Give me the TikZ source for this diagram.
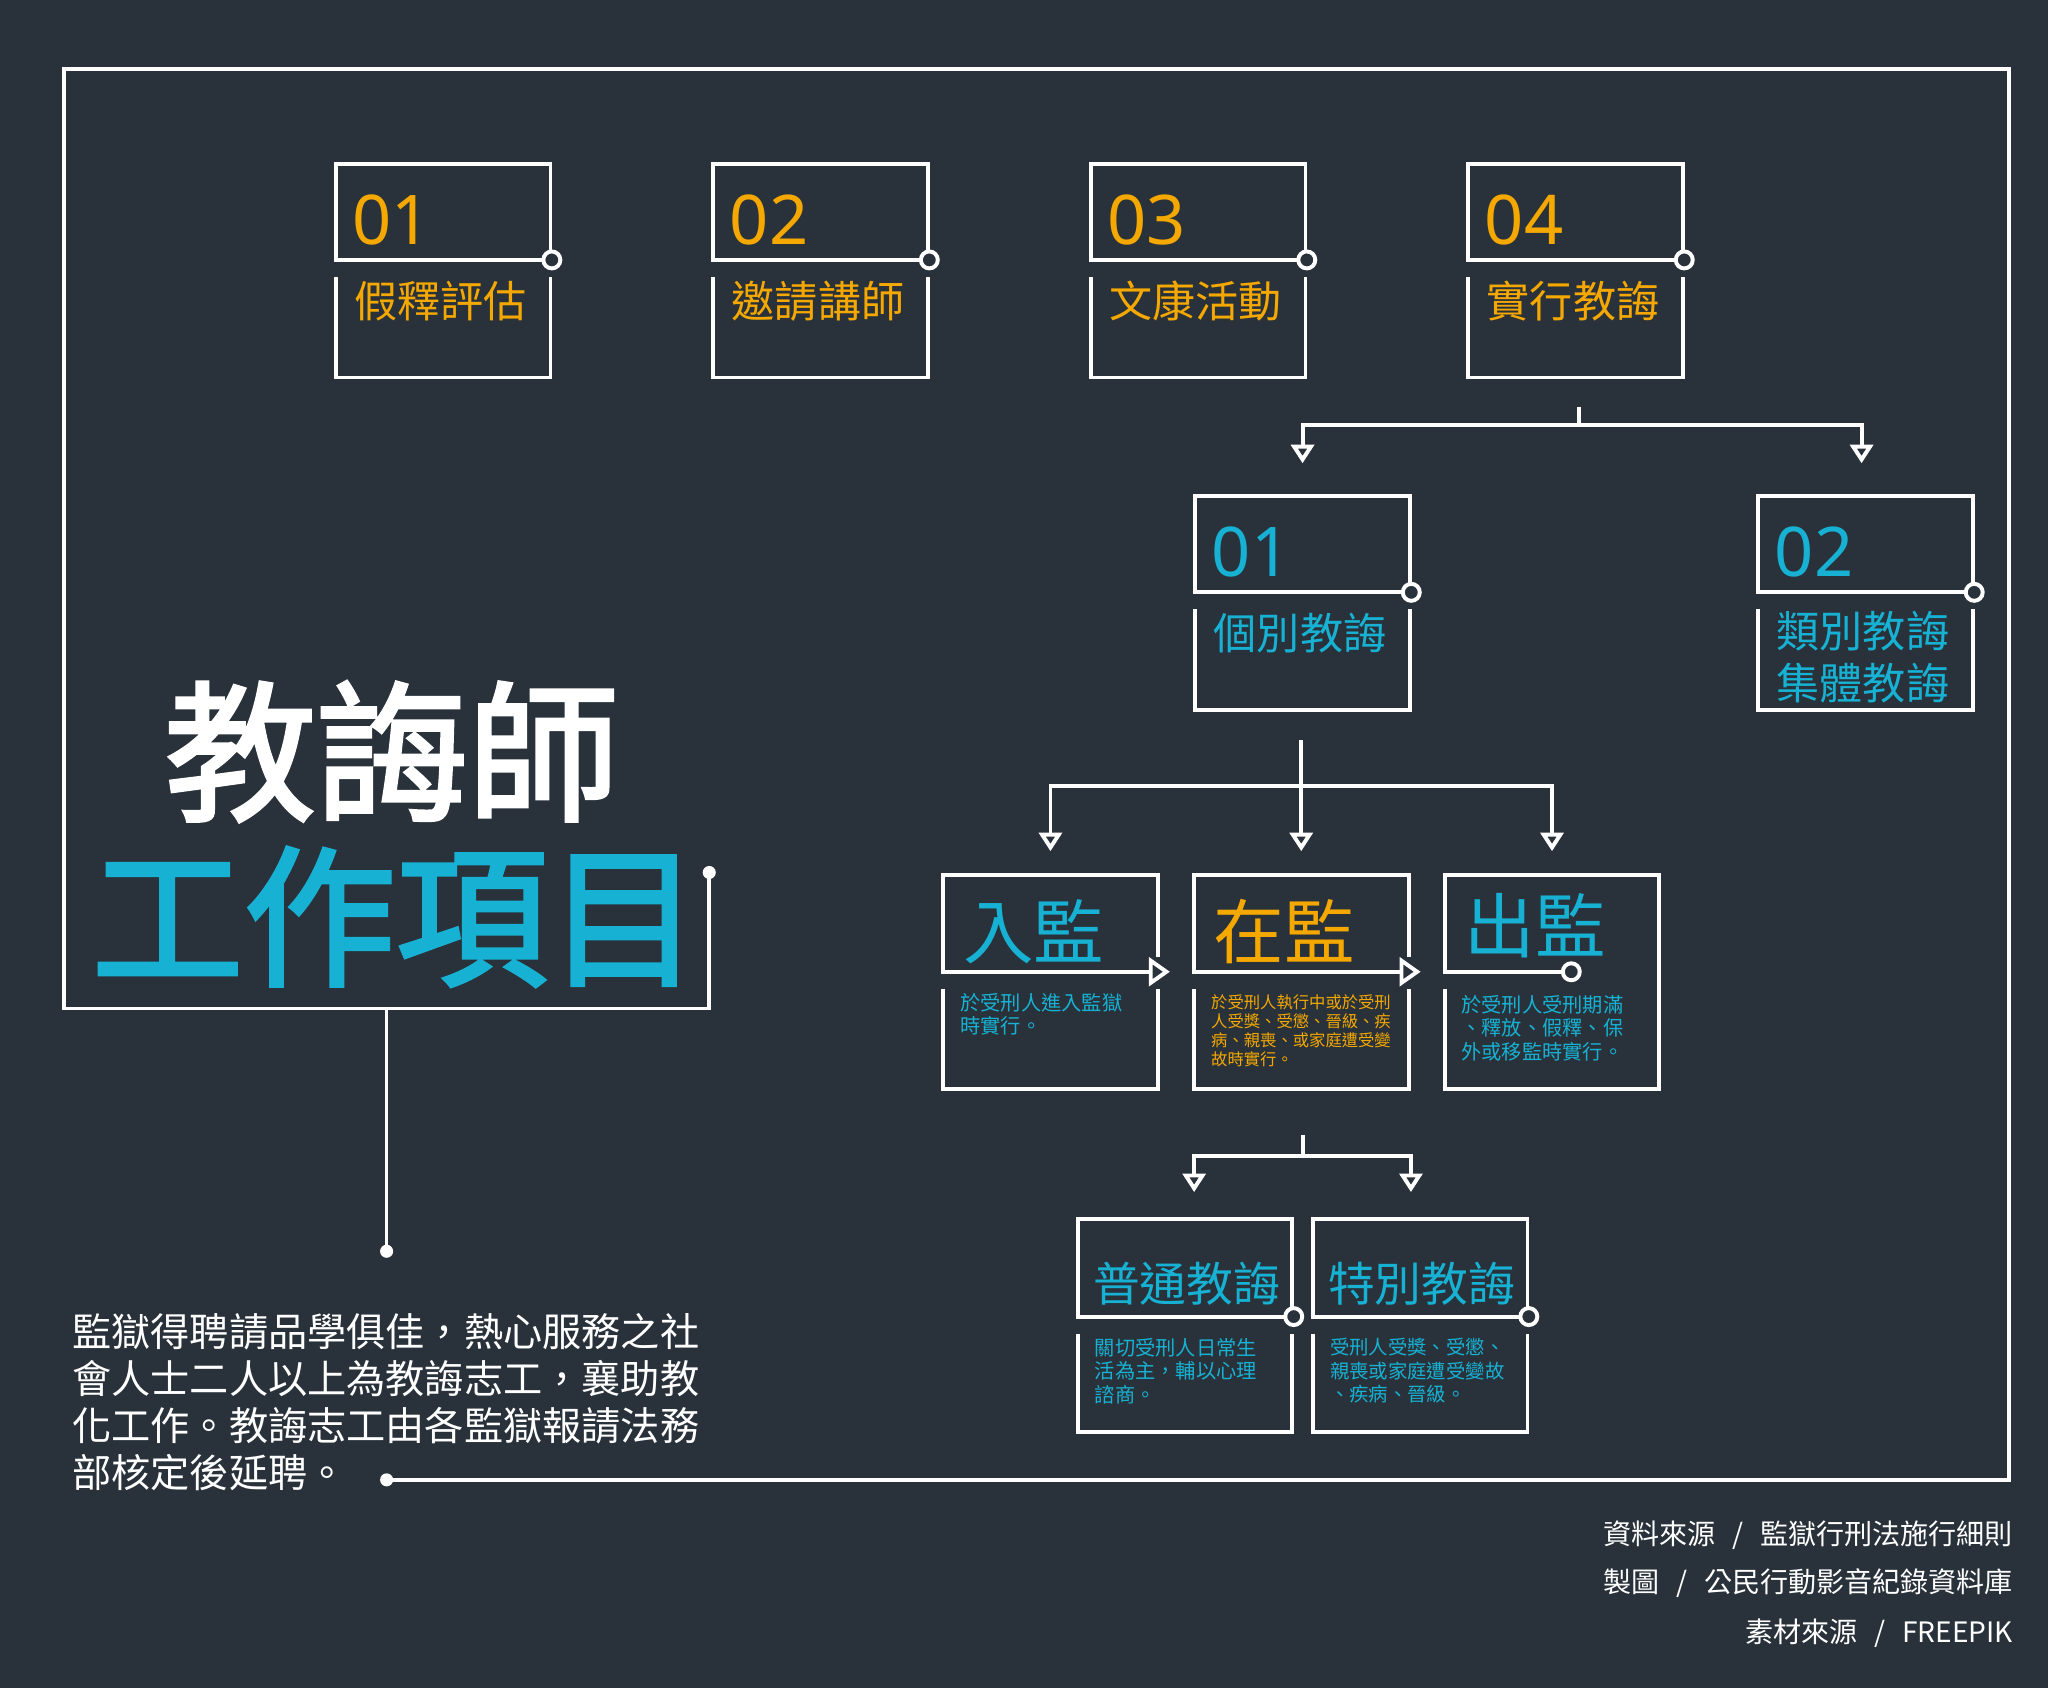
\documentclass[tikz,border=0pt]{standalone}
\usepackage{fontspec}
\setmainfont{Noto Sans CJK TC}
\newfontfamily\numfont{Noto Sans}
\newfontfamily\headfont{Noto Sans CJK TC}[FakeBold=2.2]
\usetikzlibrary{arrows.meta,calc}
\definecolor{bg}{HTML}{29323A}
\definecolor{org}{HTML}{F5A800}
\definecolor{cyn}{HTML}{17B2D3}
\newcommand{\fs}[2]{\fontsize{#1pt}{#2pt}\selectfont}
\tikzset{
  boxline/.style={draw=white, line width=1.8pt, line join=miter},
  frameline/.style={draw=white, line width=1.6pt, line join=miter},
  conn/.style={draw=white, line width=1.8pt, -{Triangle[open, length=8.5pt, width=10.5pt]}},
  plainconn/.style={draw=white, line width=1.8pt},
  area/.style={inner sep=0pt, minimum width=98.7pt, minimum height=98.1pt, draw=none},
  ring/.style={draw=white, line width=1.8pt, fill=bg},
  dotend/.style={circle, fill=white, inner sep=0pt, minimum size=6pt},
  lab/.style={anchor=west, inner sep=0pt},
  num/.style={anchor=base west, inner sep=0pt, font=\numfont\fs{31.5}{32}},
  desc/.style={anchor=north west, inner sep=0pt, align=left},
}
% card with ring at right end of middle line
\newcommand{\cardC}[4]{%
  \node[area] (#1) at (#2+82.25,#3+81.75) {};
  \draw[boxline] (#2+164.5,#4-7.5) -- (#2+164.5,#3) -- (#2,#3) -- (#2,#4) -- (#2+158,#4);
  \draw[boxline] (#2,#4+13) -- (#2,#3+163.5) -- (#2+164.5,#3+163.5) -- (#2+164.5,#4+13);
  \draw[ring] (#2+165.5,#4) circle[radius=6.5];
}
% card with open triangle at right end of middle line
\newcommand{\cardA}[4]{%
  \node[area] (#1) at (#2+82.25,#3+81.75) {};
  \draw[boxline] (#2+164.5,#4-11) -- (#2+164.5,#3) -- (#2,#3) -- (#2,#4) -- (#2+159,#4);
  \draw[boxline] (#2,#4+13) -- (#2,#3+163.5) -- (#2+164.5,#3+163.5) -- (#2+164.5,#4+13);
  \draw[boxline, fill=bg] (#2+159,#4-8.5) -- (#2+171,#4) -- (#2+159,#4+8.5) -- cycle;
}
% card with ring inside the middle line, right edge continuous
\newcommand{\cardO}[4]{%
  \node[area] (#1) at (#2+82.25,#3+81.75) {};
  \draw[boxline] (#2,#4+13) -- (#2,#3+163.5) -- (#2+164.5,#3+163.5) -- (#2+164.5,#3) -- (#2,#3) -- (#2,#4) -- (#2+91,#4);
  \draw[ring] (#2+97,#4) circle[radius=6.5];
}
\begin{document}
\begin{tikzpicture}[x=0.6pt, y=-0.6pt]
\fill[bg] (0,0) rectangle (1568,1292);
\useasboundingbox (0,0) rectangle (1568,1292);

% outer frame
\draw[frameline] (543,668) -- (543,772) -- (49,772) -- (49,53) -- (1538,53) -- (1538,1133) -- (296,1133);
\node[dotend] (dA) at (543,668) {};
\node[dotend] (dB) at (296,1133) {};
\node[dotend] (dC) at (296,958) {};
\draw[frameline] (296,772) -- (dC.center);

% titles
\node[font=\headfont\fs{69.6}{70}, text=white] (title1) at (300,575.5) {教誨師};
\node[font=\headfont\fs{69.9}{70}, text=cyn] (title2) at (303,702) {工作項目};

% paragraph
\node[desc, text=white, font=\fs{18}{21.6}] (para) at (55,1005)
  {監獄得聘請品學俱佳，熱心服務之社\\會人士二人以上為教誨志工，襄助教\\化工作。教誨志工由各監獄報請法務\\部核定後延聘。};

% credits
\node[anchor=east, inner sep=0pt, text=white, font=\fs{12.9}{13}] (cr1) at (1541.5,1175) {資料來源\hspace{0.6em}/\hspace{0.6em}監獄行刑法施行細則};
\node[anchor=east, inner sep=0pt, text=white, font=\fs{12.9}{13}] (cr2) at (1541.5,1212.3) {製圖\hspace{0.6em}/\hspace{0.6em}公民行動影音紀錄資料庫};
\node[anchor=east, inner sep=0pt, text=white, font=\fs{12.9}{13}] (cr3) at (1541.5,1250.6) {素材來源\hspace{0.6em}/\hspace{0.6em}FREEPIK};

% top row
\cardC{t1}{257}{125.5}{199}
\cardC{t2}{546}{125.5}{199}
\cardC{t3}{835}{125.5}{199}
\cardC{t4}{1124}{125.5}{199}
\node[num, text=org] (tn1) at (269.5,187) {01};
\node[num, text=org] (tn2) at (558.5,187) {02};
\node[num, text=org] (tn3) at (847.5,187) {03};
\node[num, text=org] (tn4) at (1136.5,187) {04};
\node[lab, text=org, font=\fs{19.8}{20}] (tl1) at (271,230.5) {假釋評估};
\node[lab, text=org, font=\fs{19.8}{20}] (tl2) at (560,230.5) {邀請講師};
\node[lab, text=org, font=\fs{19.8}{20}] (tl3) at (849,230.5) {文康活動};
\node[lab, text=org, font=\fs{19.8}{20}] (tl4) at (1138,230.5) {實行教誨};

% second row
\cardC{s1}{915}{380}{453.5}
\cardC{s2}{1346}{380}{453.5}
\node[num, text=cyn] (sn1) at (927.5,441) {01};
\node[num, text=cyn] (sn2) at (1358.5,441) {02};
\node[lab, text=cyn, font=\fs{19.8}{20}] (sl1) at (929,485) {個別教誨};
\node[lab, text=cyn, font=\fs{19.8}{20}] (sl2) at (1360,483) {類別教誨};
\node[lab, text=cyn, font=\fs{19.8}{20}] (sl3) at (1360,523) {集體教誨};

% third row
\cardA{p1}{722}{670}{744}
\cardA{p2}{914}{670}{744}
\cardO{p3}{1106}{670}{744}
\node[lab, text=cyn, font=\fs{32.4}{33}] (pt1) at (737,713) {入監};
\node[lab, text=org, font=\fs{32.4}{33}] (pt2) at (929,713) {在監};
\node[lab, text=cyn, font=\fs{32.4}{33}] (pt3) at (1121,709) {出監};
\node[desc, text=cyn, font=\fs{9.3}{10.8}] (pd1) at (735,760) {於受刑人進入監獄\\時實行。};
\node[desc, text=org, font=\fs{7.5}{8.6}] (pd2) at (927,761.5) {於受刑人執行中或於受刑\\人受獎、受懲、晉級、疾\\病、親喪、或家庭遭受變\\故時實行。};
\node[desc, text=cyn, font=\fs{9.3}{10.8}] (pd3) at (1118.5,761.5) {於受刑人受刑期滿\\、釋放、假釋、保\\外或移監時實行。};

% fourth row
\cardC{m1}{825}{933}{1008}
\cardC{m2}{1005}{933}{1008}
\node[lab, text=cyn, font=\fs{21.5}{22}] (mt1) at (836.5,983) {普通教誨};
\node[lab, text=cyn, font=\fs{21.5}{22}] (mt2) at (1016.5,983) {特別教誨};
\node[desc, text=cyn, font=\fs{9.3}{10.8}] (md1) at (838,1024.3) {關切受刑人日常生\\活為主，輔以心理\\諮商。};
\node[desc, text=cyn, font=\fs{8.9}{10.8}] (md2) at (1018,1024.3) {受刑人受獎、受懲、\\親喪或家庭遭受變故\\、疾病、晉級。};

% connectors
\draw[plainconn] ($(t4.south)+(3,22)$) -- ($(t4.south)+(3,36)$) coordinate (j4);
\draw[conn] (j4) -| ($(s1.north)+(0,-25)$);
\draw[conn] (j4) -| ($(s2.north)+(-3,-25)$);

\draw[conn] ($(s1.south)+(-1,23)$) -- ($(p2.north)+(0,-18)$);
\coordinate (j5) at ($(p2.north)+(0,-68)$);
\draw[conn] (j5) -| ($(p1.north)+(0,-18)$);
\draw[conn] (j5) -| ($(p3.north)+(0,-18)$);

\draw[plainconn] ($(p2.south)+(1,35)$) -- ($(p2.south)+(1,51)$) coordinate (j6);
\draw[conn] (j6) -| ($(m1.north)+(7,-20)$);
\draw[conn] (j6) -| ($(m2.north)+(-7,-20)$);
\end{tikzpicture}
\end{document}
